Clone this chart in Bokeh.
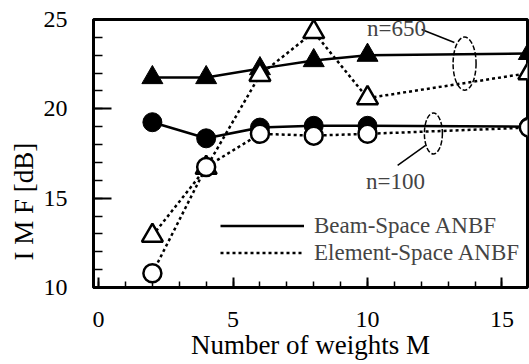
from bokeh.plotting import figure
from bokeh.models import Range1d, Label, Legend, LegendItem, FixedTicker, Title
from bokeh.embed import file_html
from bokeh.resources import INLINE

# ---- data ----
M = [2, 4, 6, 8, 10, 16]
beam_650 = [21.75, 21.75, 22.25, 22.7, 23.0, 23.1]
element_650 = [12.9, 16.7, 21.9, 24.3, 20.6, 22.0]
beam_100 = [19.25, 18.35, 18.95, 19.05, 19.05, 19.0]
element_100 = [10.8, 16.75, 18.6, 18.5, 18.6, 18.95]
x_ticks = [0, 5, 10, 15]
y_ticks = [10, 15, 20, 25]
series_labels = ["Beam-Space ANBF", "Element-Space ANBF"]
x_title = "Number of weights M"
y_title = "I M F [dB]"

FONT = "Liberation Serif"

p = figure(width=529, height=364, output_backend="svg", toolbar_location=None,
           x_range=Range1d(-0.19, 15.95), y_range=Range1d(10, 25),
           min_border_left=93, min_border_right=2, min_border_top=19, min_border_bottom=77)
p.background_fill_color = "white"
p.border_fill_color = "white"
p.grid.visible = False
p.outline_line_color = "black"
p.outline_line_width = 3

for ax in (p.xaxis[0], p.yaxis[0]):
    ax.axis_line_color = "black"
    ax.axis_line_width = 3
    ax.major_tick_out = 0
    ax.minor_tick_out = 0
    ax.major_tick_line_width = 2
    ax.minor_tick_line_width = 1.5
    ax.major_label_text_font = FONT
    ax.major_label_text_font_size = "24px"
    ax.major_label_text_color = "black"
    ax.axis_label_text_font = FONT
    ax.axis_label_text_font_style = "normal"
    ax.axis_label_text_color = "black"

p.xaxis.ticker = FixedTicker(ticks=x_ticks, minor_ticks=list(range(0, 16)))
p.yaxis.ticker = FixedTicker(ticks=y_ticks, minor_ticks=list(range(10, 26)))
p.xaxis.major_tick_in = 10
p.xaxis.minor_tick_in = 6
p.yaxis.major_tick_in = 18
p.yaxis.minor_tick_in = 9
p.xaxis.major_label_standoff = 24
p.yaxis.major_label_standoff = 26

p.xaxis.axis_label = x_title
p.xaxis.axis_label_text_font_size = "27px"
p.xaxis.axis_label_standoff = 0

ytitle = Title(text=y_title, align="left", offset=27, standoff=3,
               text_font=FONT, text_font_size="27px", text_font_style="normal",
               text_color="black")
p.add_layout(ytitle, "left")

# lines
l1 = p.line(M, beam_650, line_color="black", line_width=2.5)
l2 = p.line(M, beam_100, line_color="black", line_width=2.5)
l3 = p.line(M, element_650, line_color="black", line_width=2.5, line_dash="3 3")
l4 = p.line(M, element_100, line_color="black", line_width=2.5, line_dash="3 3")

# markers
p.scatter(M, beam_650, marker="triangle", size=21, fill_color="black", line_color="black")
p.scatter(M, beam_100, marker="circle", size=19, fill_color="black", line_color="black")
p.scatter(M, element_650, marker="triangle", size=21, fill_color="white", line_color="black", line_width=2.5)
p.scatter(M, element_100, marker="circle", size=18, fill_color="white", line_color="black", line_width=2.5)

legend = Legend(items=[LegendItem(label=series_labels[0], renderers=[l1]),
                       LegendItem(label=series_labels[1], renderers=[l3])],
                location=(127, 21), glyph_width=84, glyph_height=27, label_standoff=10,
                spacing=0, padding=0, margin=0, border_line_color=None,
                background_fill_alpha=0, label_text_font=FONT, label_text_font_size="23px",
                label_height=27)
p.add_layout(legend, "center")

# annotations: group ellipses and leaders
p.ellipse(x=[13.61, 12.45], y=[22.53, 18.62], width=[0.855, 0.67], height=[2.97, 2.29],
          fill_alpha=0, line_color="black", line_width=1.5, line_dash="5 2")
p.segment(x0=[12.01, 11.12], y0=[24.44, 16.83], x1=[13.23, 12.16], y1=[23.71, 17.95],
          line_color="black", line_width=1.5)
p.add_layout(Label(x=11.08, y=24.49, text="n=650", text_font=FONT, text_font_size="23px",
                   text_align="center", text_baseline="middle"))
p.add_layout(Label(x=11.04, y=15.93, text="n=100", text_font=FONT, text_font_size="23px",
                   text_align="center", text_baseline="middle"))

open("out.html", "w").write(file_html(p, INLINE))
